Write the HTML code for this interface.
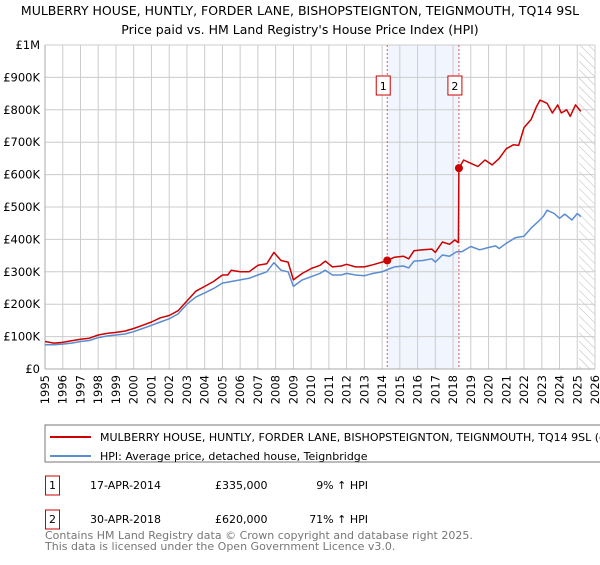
<!DOCTYPE html>
<html><head><meta charset="utf-8"><style>
body{margin:0;background:#fff;font-family:"Liberation Sans","DejaVu Sans",sans-serif}
svg text{font-family:"DejaVu Sans","Liberation Sans",sans-serif}
</style></head><body>
<svg id="c" width="600" height="560" viewBox="0 0 600 560">
<text x="300" y="15" text-anchor="middle" font-size="12.5">MULBERRY HOUSE, HUNTLY, FORDER LANE, BISHOPSTEIGNTON, TEIGNMOUTH, TQ14 9SL</text>
<text x="300" y="34" text-anchor="middle" font-size="12.5">Price paid vs. HM Land Registry's House Price Index (HPI)</text>
<g id="plot"></g>
<rect x="45" y="425" width="570" height="37" fill="#fff" stroke="#777"/>
<line x1="50" y1="437" x2="91" y2="437" stroke="#cc0000" stroke-width="2"/>
<text x="100" y="441" font-size="11">MULBERRY HOUSE, HUNTLY, FORDER LANE, BISHOPSTEIGNTON, TEIGNMOUTH, TQ14 9SL (detached house)</text>
<line x1="50" y1="456" x2="91" y2="456" stroke="#5b8dd0" stroke-width="2"/>
<text x="100" y="460" font-size="11">HPI: Average price, detached house, Teignbridge</text>
<g font-size="11">
<rect x="45.5" y="476" width="14" height="19" fill="none" stroke="#cc0000"/>
<text x="52.5" y="489" text-anchor="middle">1</text>
<text x="90" y="489">17-APR-2014</text>
<text x="215" y="489">£335,000</text>
<text x="368" y="489" text-anchor="end">9% ↑ HPI</text>
<rect x="45.5" y="510" width="14" height="19" fill="none" stroke="#cc0000"/>
<text x="52.5" y="523" text-anchor="middle">2</text>
<text x="90" y="523">30-APR-2018</text>
<text x="215" y="523">£620,000</text>
<text x="368" y="523" text-anchor="end">71% ↑ HPI</text>
</g>
<text x="45" y="539" font-size="11" fill="#777">Contains HM Land Registry data © Crown copyright and database right 2025.</text>
<text x="45" y="550" font-size="11" fill="#777">This data is licensed under the Open Government Licence v3.0.</text>
</svg>
<script>
const yearTicks=[1995,1996,1997,1998,1999,2000,2001,2002,2003,2004,2005,2006,2007,2008,2009,2010,2011,2012,2013,2014,2015,2016,2017,2018,2019,2020,2021,2022,2023,2024,2025,2026];
const priceTicks=[0,100,200,300,400,500,600,700,800,900,1000];
const priceTickLabels=["£0","£100K","£200K","£300K","£400K","£500K","£600K","£700K","£800K","£900K","£1M"];
const hpiT=[1995,1995.5,1996,1996.5,1997,1997.5,1998,1998.5,1999,1999.5,2000,2000.5,2001,2001.5,2002,2002.5,2003,2003.5,2004,2004.5,2005,2005.5,2006,2006.5,2007,2007.5,2007.9,2008.3,2008.7,2009,2009.5,2010,2010.5,2010.8,2011.2,2011.7,2012,2012.5,2013,2013.5,2014,2014.3,2014.7,2015.2,2015.5,2015.8,2016.3,2016.8,2017,2017.4,2017.8,2018.2,2018.5,2019,2019.5,2020,2020.4,2020.6,2021,2021.5,2022,2022.4,2022.8,2023.1,2023.3,2023.7,2024,2024.3,2024.7,2025,2025.2];
const hpiV=[75,75,77,80,85,88,97,102,105,108,115,125,135,145,155,170,200,222,235,248,265,270,275,280,290,300,328,305,300,255,275,285,295,305,290,290,295,290,288,295,300,307,315,318,312,333,335,340,330,352,348,362,362,378,368,375,380,372,388,405,410,435,455,472,490,480,465,478,460,480,470];
const priceT=[1995,1995.5,1996,1996.5,1997,1997.5,1998,1998.5,1999,1999.5,2000,2000.5,2001,2001.5,2002,2002.5,2003,2003.5,2004,2004.5,2005,2005.3,2005.5,2006,2006.5,2007,2007.5,2007.9,2008.3,2008.7,2009,2009.5,2010,2010.5,2010.8,2011.2,2011.7,2012,2012.5,2013,2013.5,2014,2014.29,2014.7,2015.2,2015.5,2015.8,2016.3,2016.8,2017,2017.4,2017.8,2018.1,2018.3,2018.33,2018.6,2019,2019.4,2019.8,2020.2,2020.6,2021,2021.4,2021.7,2022,2022.4,2022.7,2022.9,2023.3,2023.6,2023.9,2024.1,2024.4,2024.6,2024.9,2025.2];
const priceV=[85,80,82,87,92,95,105,110,113,117,125,135,145,158,165,180,210,240,255,270,290,290,305,300,300,320,325,360,335,330,275,295,310,320,333,315,318,323,315,315,322,330,335,345,348,340,365,368,370,360,392,385,398,390,620,645,635,625,645,630,650,680,692,690,745,770,810,830,820,790,815,790,800,780,815,795];
const saleT=[2014.29,2018.33];
const saleV=[335,620];
const saleLabels=["1","2"];
const X0=45,X1=595,Y0=369,Y1=45;
const xs=t=>X0+(t-1995)/(2026-1995)*(X1-X0);
const ys=v=>Y0-v/1000*(Y0-Y1);
const NS="http://www.w3.org/2000/svg";
const g=document.getElementById('plot');
function mk(tag,a,p){const e=document.createElementNS(NS,tag);for(const k in a)e.setAttribute(k,a[k]);(p||g).appendChild(e);return e;}
const band=mk('rect',{x:xs(saleT[0]),y:Y1,width:xs(saleT[1])-xs(saleT[0]),height:Y0-Y1,fill:'#eef3fc',opacity:0.8});


const hx=xs(2025.1);
const defs=mk('defs',{});
const pat=mk('pattern',{id:'hatch',width:6,height:6,patternUnits:'userSpaceOnUse',patternTransform:'rotate(-45)'},defs);
mk('line',{x1:0,y1:0,x2:0,y2:6,stroke:'#bbb','stroke-width':1},pat);
const hr=mk('rect',{x:hx,y:Y1,width:X1-hx,height:Y0-Y1,fill:'url(#hatch)'});


yearTicks.forEach(y=>{const x=xs(y);
 const l=mk('line',{x1:x,y1:Y1,x2:x,y2:Y0,stroke:'#ccc','stroke-width':1});
 
 
 const t=mk('text',{x:0,y:0,'font-size':11.5,'text-anchor':'end',transform:`translate(${x+4},${Y0+6}) rotate(-90)`});
 t.textContent=y;
 
 
});
priceTicks.forEach((v,i)=>{const y=ys(v);
 const l=mk('line',{x1:X0,y1:y,x2:X1,y2:y,stroke:'#ccc','stroke-width':1});
 
 
 const t=mk('text',{x:40,y:y+4,'font-size':11.5,'text-anchor':'end'});
 t.textContent=priceTickLabels[i];
 
 
});
mk('line',{x1:X0,y1:Y1,x2:X0,y2:Y0,stroke:'#aaa'});
mk('line',{x1:X0,y1:Y0,x2:X1,y2:Y0,stroke:'#aaa'});
saleT.forEach((t,i)=>{const x=xs(t);
 const l=mk('line',{x1:x,y1:Y1,x2:x,y2:Y0,stroke:'#ee5555','stroke-dasharray':'2,2','stroke-width':1});
 
 
 const r=mk('rect',{x:x-11,y:76,width:14,height:19,fill:'#fff',stroke:'#cc0000'});
 
 
 const tx=mk('text',{x:x-4,y:90,'font-size':11,'text-anchor':'middle'});
 tx.textContent=saleLabels[i];
 
 
});
function line(T,V,col,name){const d=T.map((t,i)=>(i?'L':'M')+xs(t).toFixed(1)+','+ys(V[i]).toFixed(1)).join('');
 const p=mk('path',{d:d,fill:'none',stroke:col,'stroke-width':1.5,'stroke-linejoin':'round'});
 
 }
line(hpiT,hpiV,'#5b8dd0','hpi-line');
line(priceT,priceV,'#cc0000','price-line');
saleT.forEach((t,i)=>{const c=mk('circle',{cx:xs(t),cy:ys(saleV[i]),r:4,fill:'#cc0000'});
 
 });
</script>
</body></html>
